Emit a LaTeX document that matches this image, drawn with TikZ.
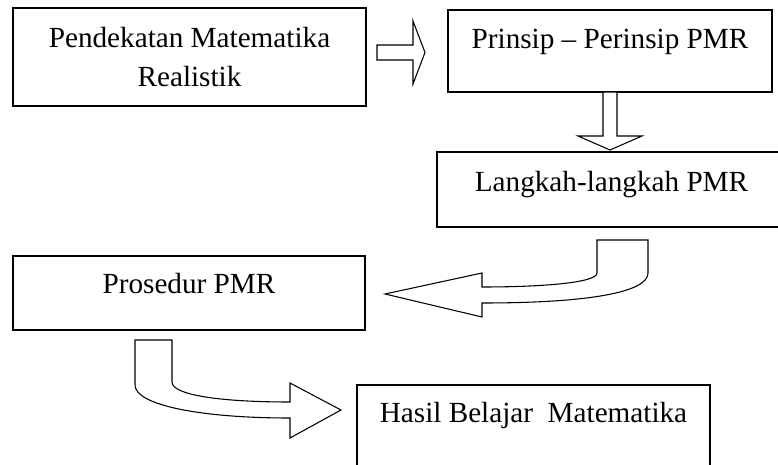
\documentclass[tikz,border=0pt]{standalone}
\usepackage{fontspec}
\setmainfont{Liberation Serif}
\begin{document}
\begin{tikzpicture}[x=0.75pt, y=-0.75pt,
    kotak/.style={draw=black, line width=1.1pt, inner sep=0pt, anchor=base,
        font=\fontsize{21.9}{29.25}\selectfont},
    panah/.style={draw=black, fill=white, line width=0.8pt, line join=miter}]
    \useasboundingbox (0,0) rectangle (778,464);
    % kotak-kotak
    \node[kotak, anchor=center, align=center, minimum width=264.75pt, minimum height=73.5pt] (pendekatan) at (189.5,57) {Pendekatan Matematika\\Realistik};
    \node[kotak, minimum width=243pt, text height=28.5pt, text depth=33pt] (prinsip) at (610,48) {Prinsip – Perinsip PMR};
    \node[kotak, minimum width=261.75pt, text height=29.25pt, text depth=27pt] (langkah) at (611.5,191) {Langkah-langkah PMR};
    \node[kotak, minimum width=264pt, text height=27.75pt, text depth=27.75pt] (prosedur) at (189,293) {Prosedur PMR};
    \node[kotak, minimum width=264.75pt, text height=27.75pt, text depth=36pt] (hasil) at (533.5,422) {Hasil Belajar\ \ Matematika};
    % panah-panah
    \filldraw[panah] (377,45) -- (413,45) -- (413,21) -- (425,52.5) -- (413,84) -- (413,60) -- (377,60) -- cycle;
    \filldraw[panah] (603,92) -- (603,136) -- (578,136) -- (610,150) -- (642,136) -- (617,136) -- (617,92) -- cycle;
    \filldraw[panah] (597,240) -- (597,273) .. controls (597,283) and (540,287) .. (482,287) -- (482,273) -- (385,294) -- (482,317) -- (482,303) .. controls (590,303) and (648,292) .. (648,273) -- (648,240) -- cycle;
    \filldraw[panah] (135,340) -- (135,385) .. controls (135,405) and (200,418) .. (290,418) -- (290,438) -- (341,410) -- (290,383) -- (290,402) .. controls (220,402) and (172,395) .. (172,382) -- (172,340) -- cycle;
\end{tikzpicture}
\end{document}
